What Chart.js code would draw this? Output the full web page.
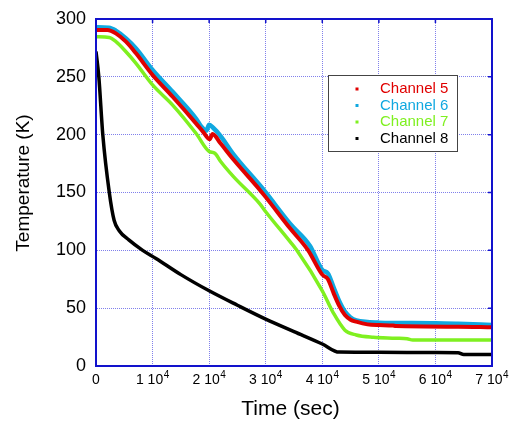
<!DOCTYPE html>
<html>
<head>
<meta charset="utf-8">
<script src="https://cdn.jsdelivr.net/npm/chart.js@4.4.1/dist/chart.umd.min.js"></script>
<style>
  html, body { margin: 0; padding: 0; background: #fff; }
  canvas { display: block; }
</style>
</head>
<body>
<canvas id="chart" width="510" height="421"></canvas>
<script>
"use strict";

// values (time in s, temperature in K)
const time5 = [0, 2000, 3500, 5300, 7070, 10000, 13550, 17670, 19000, 20100, 20600, 22000, 24300, 29000, 30000, 34300, 37500, 40000, 41000, 42000, 43000, 44000, 45000, 46000, 48000, 50000, 52500, 53000, 64000, 70000];
const temp5 = [290.5, 290.5, 287.6, 280.4, 270.3, 251.6, 232.8, 209.8, 202, 196, 200.6, 192.5, 178.5, 152, 146, 119, 100, 79, 75, 63, 52, 44, 40, 38.3, 36, 35.4, 35, 34.5, 34, 33.5];

const time6 = [0, 2300, 3500, 5300, 7070, 10000, 13550, 17670, 18600, 19500, 20000, 20700, 22000, 24300, 29000, 30000, 34300, 37800, 40000, 41000, 42000, 43000, 44000, 45000, 46000, 48000, 50000, 60000, 64000, 70000];
const temp6 = [292.8, 292.5, 290, 283.3, 274.6, 256, 237, 214, 207, 203.5, 208.5, 206, 199, 183, 156, 150, 123, 104, 83, 80, 68, 56, 47, 42, 39.5, 38, 37.5, 37, 36.5, 35.5];

const time7 = [0, 2350, 3530, 5300, 7070, 10000, 13550, 17670, 20000, 21000, 22000, 24300, 29000, 30000, 34300, 35500, 40000, 42000, 44000, 46000, 49000, 53000, 55000, 56000, 70000];
const temp7 = [284.7, 284, 280.4, 271.7, 261.7, 243, 225.6, 201.2, 185.5, 184, 177, 163.7, 140, 133.4, 107.5, 100, 65, 45.5, 31, 26.8, 24.8, 24, 23.5, 22.5, 22.5];

const time8 = [0, 500, 1200, 2350, 3200, 4100, 5800, 8250, 10600, 15000, 20000, 25000, 30000, 35000, 40000, 43000, 50000, 60000, 64000, 65000, 70000];
const temp8 = [272, 250, 200, 150, 126, 117, 109, 100, 93, 79, 65, 52.5, 40.5, 29.7, 19, 12, 11.8, 11.6, 11.5, 10, 10];

const seriesLabels = ["Channel 5", "Channel 6", "Channel 7", "Channel 8"];
const seriesColors = ["#e00000", "#10a8e0", "#7ff020", "#000000"];

const xTicks = [0, 10000, 20000, 30000, 40000, 50000, 60000, 70000];
const yTicks = [0, 50, 100, 150, 200, 250, 300];
const xTitle = "Time (sec)";
const yTitle = "Temperature (K)";

const FONT = "'Liberation Sans', Arial, sans-serif";
const FRAME_COLOR = "#1212cc";
const GRID_COLOR = "rgba(60, 60, 225, 0.65)";

function toPoints(times, temps) {
  return times.map((t, i) => ({ x: t, y: temps[i] }));
}

// x tick label as mantissa + "10" with a raised exponent
function xTickParts(value) {
  if (value === 0) return { base: "0", exp: "" };
  return { base: `${value / 10000} 10`, exp: "4" };
}

const annotations = {
  id: "annotations",
  afterDatasetsDraw(chart) {
    const { ctx, chartArea: a, scales } = chart;
    ctx.save();

    // blue frame
    ctx.strokeStyle = FRAME_COLOR;
    ctx.lineWidth = 2;
    ctx.strokeRect(a.left, a.top, a.right - a.left, a.bottom - a.top);

    // small inward ticks on the top and right sides
    ctx.lineWidth = 1.5;
    ctx.beginPath();
    for (const v of yTicks) {
      const y = scales.y.getPixelForValue(v);
      ctx.moveTo(a.right, y);
      ctx.lineTo(a.right - 4, y);
    }
    for (const v of xTicks) {
      const x = scales.x.getPixelForValue(v);
      ctx.moveTo(x, a.top);
      ctx.lineTo(x, a.top + 4);
    }
    ctx.stroke();

    // legend box
    const boxX = 328, boxY = 75, boxW = 129, boxH = 76;
    ctx.fillStyle = "#fff";
    ctx.fillRect(boxX, boxY, boxW, boxH);
    ctx.strokeStyle = "#444";
    ctx.lineWidth = 1;
    ctx.strokeRect(boxX + 0.5, boxY + 0.5, boxW, boxH);

    ctx.font = `15px ${FONT}`;
    ctx.textBaseline = "middle";
    ctx.textAlign = "left";
    chart.data.datasets.forEach((ds, i) => {
      const rowY = boxY + 14 + i * 16.5;
      ctx.fillStyle = ds.borderColor;
      ctx.fillRect(355.5, rowY - 1.5, 3, 3);
      ctx.fillText(ds.label, 380, rowY);
    });

    // x tick labels with superscript exponent
    ctx.fillStyle = "#000";
    ctx.textBaseline = "alphabetic";
    const baseFont = `14px ${FONT}`;
    const expFont = `10px ${FONT}`;
    for (const v of xTicks) {
      const { base, exp } = xTickParts(v);
      ctx.font = baseFont;
      const wBase = ctx.measureText(base).width;
      ctx.font = expFont;
      const wExp = exp ? ctx.measureText(exp).width + 0.5 : 0;
      const x0 = scales.x.getPixelForValue(v) - (wBase + wExp) / 2;
      ctx.font = baseFont;
      ctx.fillText(base, x0, 384);
      if (exp) {
        ctx.font = expFont;
        ctx.fillText(exp, x0 + wBase + 0.5, 378);
      }
    }

    // axis titles
    ctx.textAlign = "center";
    ctx.textBaseline = "middle";
    ctx.font = `21px ${FONT}`;
    ctx.fillText(xTitle, 290.5, 409);
    ctx.save();
    ctx.translate(24, 183);
    ctx.rotate(-Math.PI / 2);
    ctx.font = `19px ${FONT}`;
    ctx.fillText(yTitle, 0, 0);
    ctx.restore();

    ctx.restore();
  }
};

function buildChart() {
  const canvas = document.getElementById("chart");

  new Chart(canvas, {
    type: "line",
    data: {
      datasets: [
        {
          label: seriesLabels[0],
          data: toPoints(time5, temp5),
          borderColor: seriesColors[0],
          borderWidth: 4,
          order: 1
        },
        {
          label: seriesLabels[1],
          data: toPoints(time6, temp6),
          borderColor: seriesColors[1],
          borderWidth: 4.5,
          order: 2
        },
        {
          label: seriesLabels[2],
          data: toPoints(time7, temp7),
          borderColor: seriesColors[2],
          borderWidth: 3.5,
          order: 0
        },
        {
          label: seriesLabels[3],
          data: toPoints(time8, temp8),
          borderColor: seriesColors[3],
          borderWidth: 3.5,
          order: 0
        }
      ]
    },
    options: {
      responsive: false,
      animation: false,
      layout: { padding: { top: 19, right: 18, left: 0, bottom: 0 } },
      elements: {
        point: { radius: 0 },
        line: { cubicInterpolationMode: "monotone", fill: false }
      },
      scales: {
        x: {
          type: "linear",
          min: 0,
          max: 70000,
          afterBuildTicks: (scale) => { scale.ticks = xTicks.map((v) => ({ value: v })); },
          afterFit: (scale) => {
            scale.height = 55;
            scale.paddingLeft = 0;
            scale.paddingRight = 0;
          },
          ticks: { display: false },
          grid: { color: GRID_COLOR, lineWidth: 1, drawTicks: false },
          border: { color: FRAME_COLOR, width: 2, dash: [1, 1] }
        },
        y: {
          min: 0,
          max: 300,
          afterBuildTicks: (scale) => { scale.ticks = yTicks.map((v) => ({ value: v })); },
          afterFit: (scale) => {
            scale.width = 96;
            scale.paddingTop = 0;
            scale.paddingBottom = 0;
          },
          ticks: {
            color: "#000",
            font: { family: FONT, size: 18 },
            padding: 10
          },
          grid: { color: GRID_COLOR, lineWidth: 1, drawTicks: false },
          border: { color: FRAME_COLOR, width: 2, dash: [1, 1] }
        }
      },
      plugins: {
        legend: { display: false },
        tooltip: { enabled: false }
      }
    },
    plugins: [annotations]
  });
}

window.addEventListener("load", buildChart);
</script>
</body>
</html>
